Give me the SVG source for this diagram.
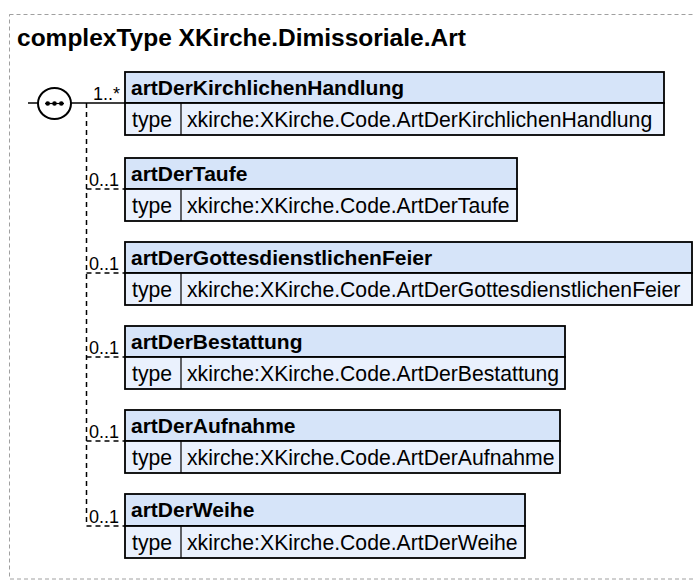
<svg xmlns="http://www.w3.org/2000/svg" width="694" height="583" viewBox="0 0 694 583">
<style>
.border{fill:none;stroke:#a0a0a0;stroke-width:1;stroke-dasharray:4,3}
.title{font-family:"Liberation Sans",Arial,sans-serif;font-weight:bold;font-size:24.5px;fill:#000}
.hd{fill:#d6e4f9;stroke:#000;stroke-width:1.8}
.rw{fill:#eaf1fd;stroke:#000;stroke-width:1.8}
.div{stroke:#000;stroke-width:1.2}
.name{font-family:"Liberation Sans",Arial,sans-serif;font-weight:bold;font-size:21px;fill:#000}
.txt{font-family:"Liberation Sans",Arial,sans-serif;font-size:21.2px;fill:#000}
.mult{font-family:"Liberation Sans",Arial,sans-serif;font-size:18px;fill:#000}
.solid{stroke:#000;stroke-width:1.5;fill:none}
.dash{stroke:#000;stroke-width:1.5;fill:none;stroke-dasharray:5,4}
</style>
<rect class="border" x="9.5" y="14.5" width="700" height="564.5"/>
<text class="title" x="17" y="46">complexType XKirche.Dimissoriale.Art</text>
<g id="connectors">
<line class="solid" x1="28" y1="103" x2="125" y2="103"/>
<path class="dash" d="M86.5,103 V526"/>
<path class="dash" d="M86.5,189 H125 M86.5,273 H125 M86.5,357 H125 M86.5,441 H125 M86.5,526 H125"/>
<text class="mult" x="93" y="100">1..*</text>
<text class="mult" x="89" y="186">0..1</text>
<text class="mult" x="89" y="270">0..1</text>
<text class="mult" x="89" y="354">0..1</text>
<text class="mult" x="89" y="438">0..1</text>
<text class="mult" x="89" y="523">0..1</text>
</g>
<g id="sequence">
<ellipse cx="54.5" cy="103.5" rx="16.5" ry="15.5" fill="#fff" stroke="#000" stroke-width="2"/>
<circle cx="47.7" cy="103.5" r="2.3"/>
<circle cx="54.5" cy="103.5" r="2.3"/>
<circle cx="61.3" cy="103.5" r="2.3"/>
<line x1="45" y1="103.5" x2="64" y2="103.5" stroke="#000" stroke-width="1.2"/>
</g>
<g id="e1">
<rect class="hd" x="125" y="72" width="539" height="31"/>
<rect class="rw" x="125" y="103" width="539" height="32"/>
<line class="div" x1="181" y1="103" x2="181" y2="135"/>
<text class="name" x="131" y="95">artDerKirchlichenHandlung</text>
<text class="txt" x="132" y="127">type</text>
<text class="txt" x="187" y="127">xkirche:XKirche.Code.ArtDerKirchlichenHandlung</text>
</g>
<g id="e2">
<rect class="hd" x="125" y="158" width="392" height="31"/>
<rect class="rw" x="125" y="189" width="392" height="32"/>
<line class="div" x1="181" y1="189" x2="181" y2="221"/>
<text class="name" x="131" y="181">artDerTaufe</text>
<text class="txt" x="132" y="213">type</text>
<text class="txt" x="187" y="213">xkirche:XKirche.Code.ArtDerTaufe</text>
</g>
<g id="e3">
<rect class="hd" x="125" y="242" width="567" height="31"/>
<rect class="rw" x="125" y="273" width="567" height="32"/>
<line class="div" x1="181" y1="273" x2="181" y2="305"/>
<text class="name" x="131" y="265">artDerGottesdienstlichenFeier</text>
<text class="txt" x="132" y="297">type</text>
<text class="txt" x="187" y="297">xkirche:XKirche.Code.ArtDerGottesdienstlichenFeier</text>
</g>
<g id="e4">
<rect class="hd" x="125" y="326" width="440" height="31"/>
<rect class="rw" x="125" y="357" width="440" height="32"/>
<line class="div" x1="181" y1="357" x2="181" y2="389"/>
<text class="name" x="131" y="349">artDerBestattung</text>
<text class="txt" x="132" y="381">type</text>
<text class="txt" x="187" y="381">xkirche:XKirche.Code.ArtDerBestattung</text>
</g>
<g id="e5">
<rect class="hd" x="125" y="410" width="435" height="31"/>
<rect class="rw" x="125" y="441" width="435" height="32"/>
<line class="div" x1="181" y1="441" x2="181" y2="473"/>
<text class="name" x="131" y="433">artDerAufnahme</text>
<text class="txt" x="132" y="465">type</text>
<text class="txt" x="187" y="465">xkirche:XKirche.Code.ArtDerAufnahme</text>
</g>
<g id="e6">
<rect class="hd" x="125" y="494" width="400" height="32"/>
<rect class="rw" x="125" y="526" width="400" height="32"/>
<line class="div" x1="181" y1="526" x2="181" y2="558"/>
<text class="name" x="131" y="517">artDerWeihe</text>
<text class="txt" x="132" y="550">type</text>
<text class="txt" x="187" y="550">xkirche:XKirche.Code.ArtDerWeihe</text>
</g>
</svg>
